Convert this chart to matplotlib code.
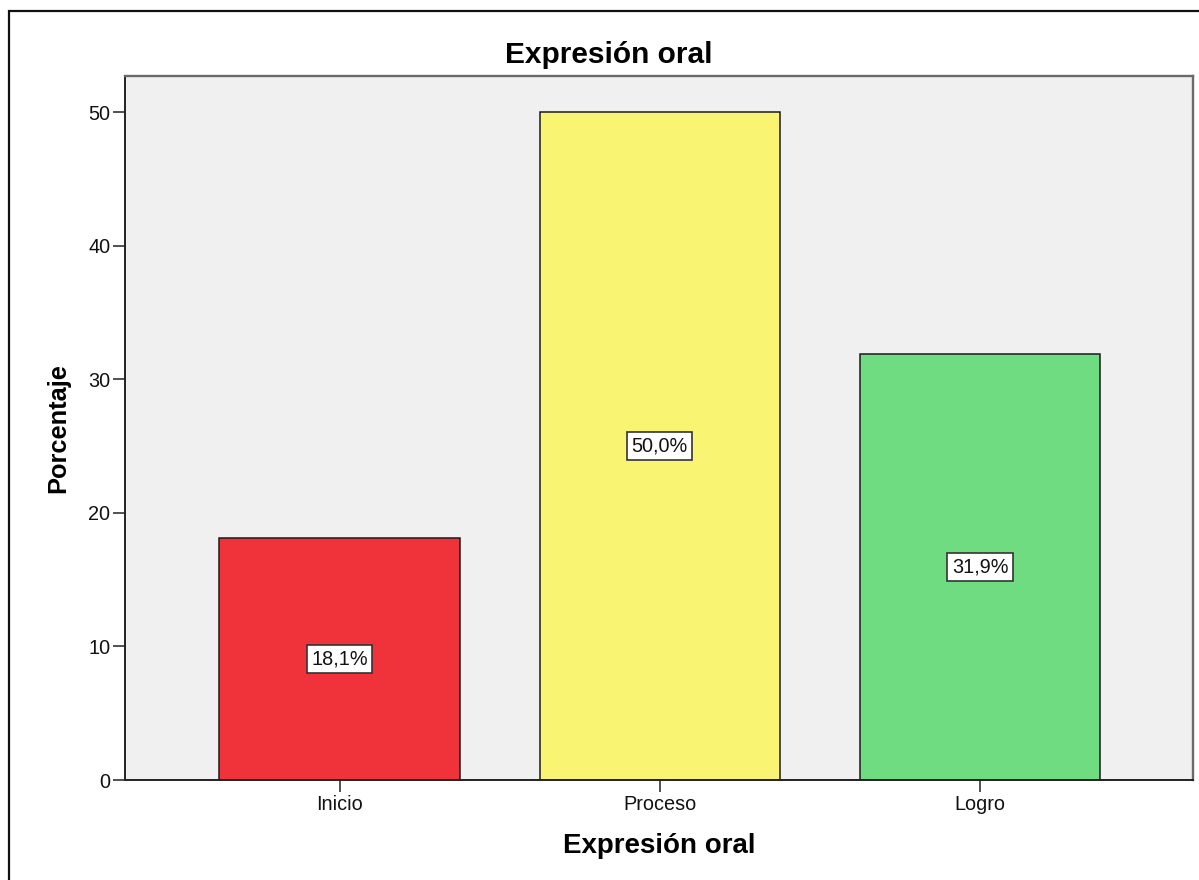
import matplotlib
matplotlib.use("Agg")
import matplotlib.pyplot as plt
from matplotlib.patches import Rectangle

plt.rcParams['font.family'] = ['Liberation Sans', 'DejaVu Sans']

categorias = ["Inicio", "Proceso", "Logro"]
porcentajes = [18.1, 50.0, 31.9]
etiquetas = ["18,1%", "50,0%", "31,9%"]
colores = ["#F0333A", "#F9F572", "#70DC82"]
yticks = [0, 10, 20, 30, 40, 50]

W, H = 1199, 880
fig = plt.figure(figsize=(W / 100, H / 100), dpi=100)

# axes placed in pixels like the SPSS output
x0, x1, y0, y1 = 125, 1193, 76, 780
ax = fig.add_axes([x0 / W, 1 - y1 / H, (x1 - x0) / W, (y1 - y0) / H])
ax.set_facecolor("#F0F0F0")

pos = list(range(len(categorias)))
ax.bar(pos, porcentajes, width=0.75, color=colores, edgecolor="#1a1a1a", linewidth=1.1, zorder=2)

for p, v, t in zip(pos, porcentajes, etiquetas):
    ax.text(p, v / 2, t, ha="center", va="center", fontsize=14.3, color="#111111", zorder=3,
            bbox=dict(boxstyle="square,pad=0.22", fc="white", ec="#333333", lw=1.2))

ax.set_xlim(-0.67, 2.665)
ax.set_ylim(0, 52.7)
ax.set_xticks(pos)
ax.set_xticklabels(categorias, fontsize=14.3)
ax.set_yticks(yticks)
ax.set_yticklabels([str(v) for v in yticks], fontsize=14.3)
ax.tick_params(axis="both", length=8.5, width=1.1, color="#222222", pad=2, labelcolor="#111111")

for s in ["left", "bottom"]:
    ax.spines[s].set_color("#222222")
    ax.spines[s].set_linewidth(1.4)
for s in ["top", "right"]:
    ax.spines[s].set_color("#6a6a6a")
    ax.spines[s].set_linewidth(1.7)

fig.text(609 / W, 1 - 63 / H, "Expresión oral", ha="center", va="baseline",
         fontsize=21.5, fontweight="bold", color="#000000")
fig.text(659 / W, 1 - 853 / H, "Expresión oral", ha="center", va="baseline",
         fontsize=20, fontweight="bold", color="#000000")
fig.text(58 / W, 1 - 428 / H, "Porcentaje", ha="center", va="center", rotation=90,
         fontsize=18.3, fontweight="bold", color="#000000")

# outer frame
fig.patches.append(Rectangle((9 / W, -0.1), 1.2, 1 - 11 / H + 0.1, transform=fig.transFigure,
                             fill=False, ec="#111111", lw=1.6))

fig.savefig("out.png", dpi=100)
